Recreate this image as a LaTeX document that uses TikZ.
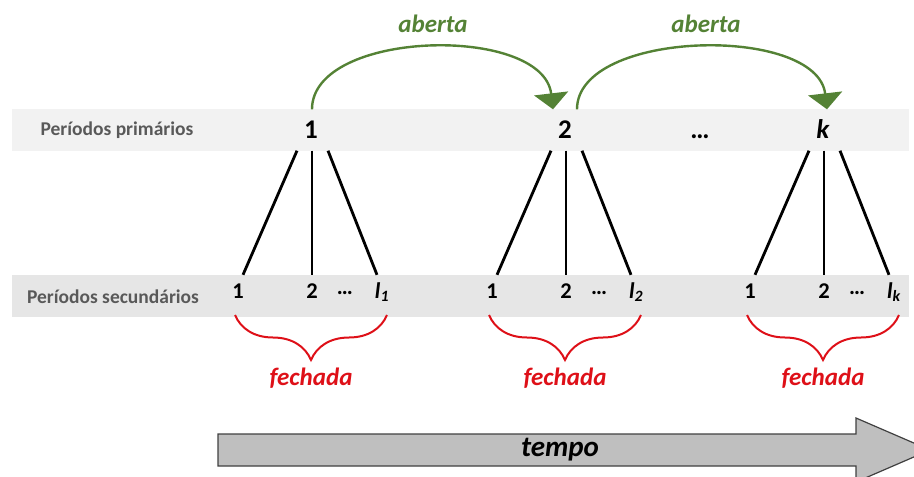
\documentclass[tikz,border=0pt]{standalone}
\usepackage{fontspec}
\setmainfont{Carlito}
\usetikzlibrary{arrows.meta,decorations.pathreplacing}

\definecolor{abertagreen}{RGB}{84,130,53}
\definecolor{fechadared}{RGB}{222,16,24}
\definecolor{bandlight}{RGB}{242,242,242}
\definecolor{banddark}{RGB}{230,230,230}
\definecolor{labelgray}{RGB}{89,89,89}
\definecolor{tempogray}{RGB}{191,191,191}
\definecolor{tempoedge}{RGB}{64,64,64}

\begin{document}
\begin{tikzpicture}[x=1pt, y=-1pt,
   rowlabel/.style={font=\fontsize{19.5}{23}\selectfont\bfseries, text=labelgray},
   primnum/.style={font=\fontsize{27}{32}\selectfont\bfseries, text height=17pt, text depth=0pt, inner xsep=2pt, inner ysep=12pt},
   secnum/.style={font=\fontsize{22.5}{27}\selectfont\bfseries, text height=14pt, text depth=0pt, inner xsep=1pt, inner ysep=9pt},
   branch/.style={line width=2.8pt},
   aberta/.style={abertagreen, line width=2.4pt, -{Triangle[length=16pt,width=34pt]}},
   abertalabel/.style={font=\fontsize{25}{30}\selectfont\bfseries\itshape, text=abertagreen},
   fechada/.style={fechadared, line width=2pt, decorate, decoration={brace, mirror, amplitude=45pt}},
   fechadalabel/.style={font=\fontsize{25}{30}\selectfont\bfseries\itshape, text=fechadared},
   tempolabel/.style={font=\fontsize{29}{34}\selectfont\bfseries\itshape}]
   \useasboundingbox (0,0) rectangle (914,477);

   % Bands
   \fill[bandlight] (12,109) rectangle (909,151);
   \fill[banddark] (12,275) rectangle (909,317);

   % Row labels
   \node[rowlabel] (primrow) at (117,130) {Períodos primários};
   \node[rowlabel] (secrow) at (113,297) {Períodos secundários};

   % Primary periods
   \node[primnum] (p1) at (311,130) {1};
   \node[primnum] (p2) at (565,130) {2};
   \node[primnum] (pdots) at (700,130) {…};
   \node[primnum] (pk) at (823,130) {\textit{k}};

   % Open transitions
   \draw[aberta] ([xshift=1pt]p1.north) .. controls +(0,-80) and +(-10,-85) .. ([xshift=-12pt]p2.north);
   \draw[aberta] ([xshift=12pt]p2.north) .. controls +(0,-80) and +(-10,-85) .. ([xshift=4pt]pk.north);
   \node[abertalabel] (aberta1) at (433,24) {aberta};
   \node[abertalabel] (aberta2) at (706,24) {aberta};

   % Secondary periods, branches and closed braces
   \foreach \g/\px in {1/311, 2/565, k/823} {
      \node[secnum] (s\g a) at (\px-73,291) {1};
      \node[secnum] (s\g b) at (\px+1,291) {2};
      \node[secnum] (s\g d) at (\px+34,291) {\raisebox{4pt}{…}};
      \node[secnum] (s\g l) at (\px+71,291) {\textit{l}\textsubscript{\textit{\g}}};
      \draw[branch] ([xshift=-14pt]p\g.south) -- ([xshift=5pt]s\g a.north);
      \draw[branch] ([xshift=1pt]p\g.south) -- (s\g b.north);
      \draw[branch] ([xshift=17pt]p\g.south) -- ([xshift=-5pt]s\g l.north);
      \draw[fechada] (\px-76,315) -- (\px+76,315);
      \node[fechadalabel] (f\g) at (\px,378) {fechada};
   }

   % Time arrow
   \filldraw[fill=tempogray, draw=tempoedge, line width=1.2pt] (218,434) -- (856,434) -- (856,418) -- (930,450) -- (856,482) -- (856,466) -- (218,466) -- cycle;
   \node[tempolabel] (tempo) at (560,450) {tempo};
\end{tikzpicture}
\end{document}
